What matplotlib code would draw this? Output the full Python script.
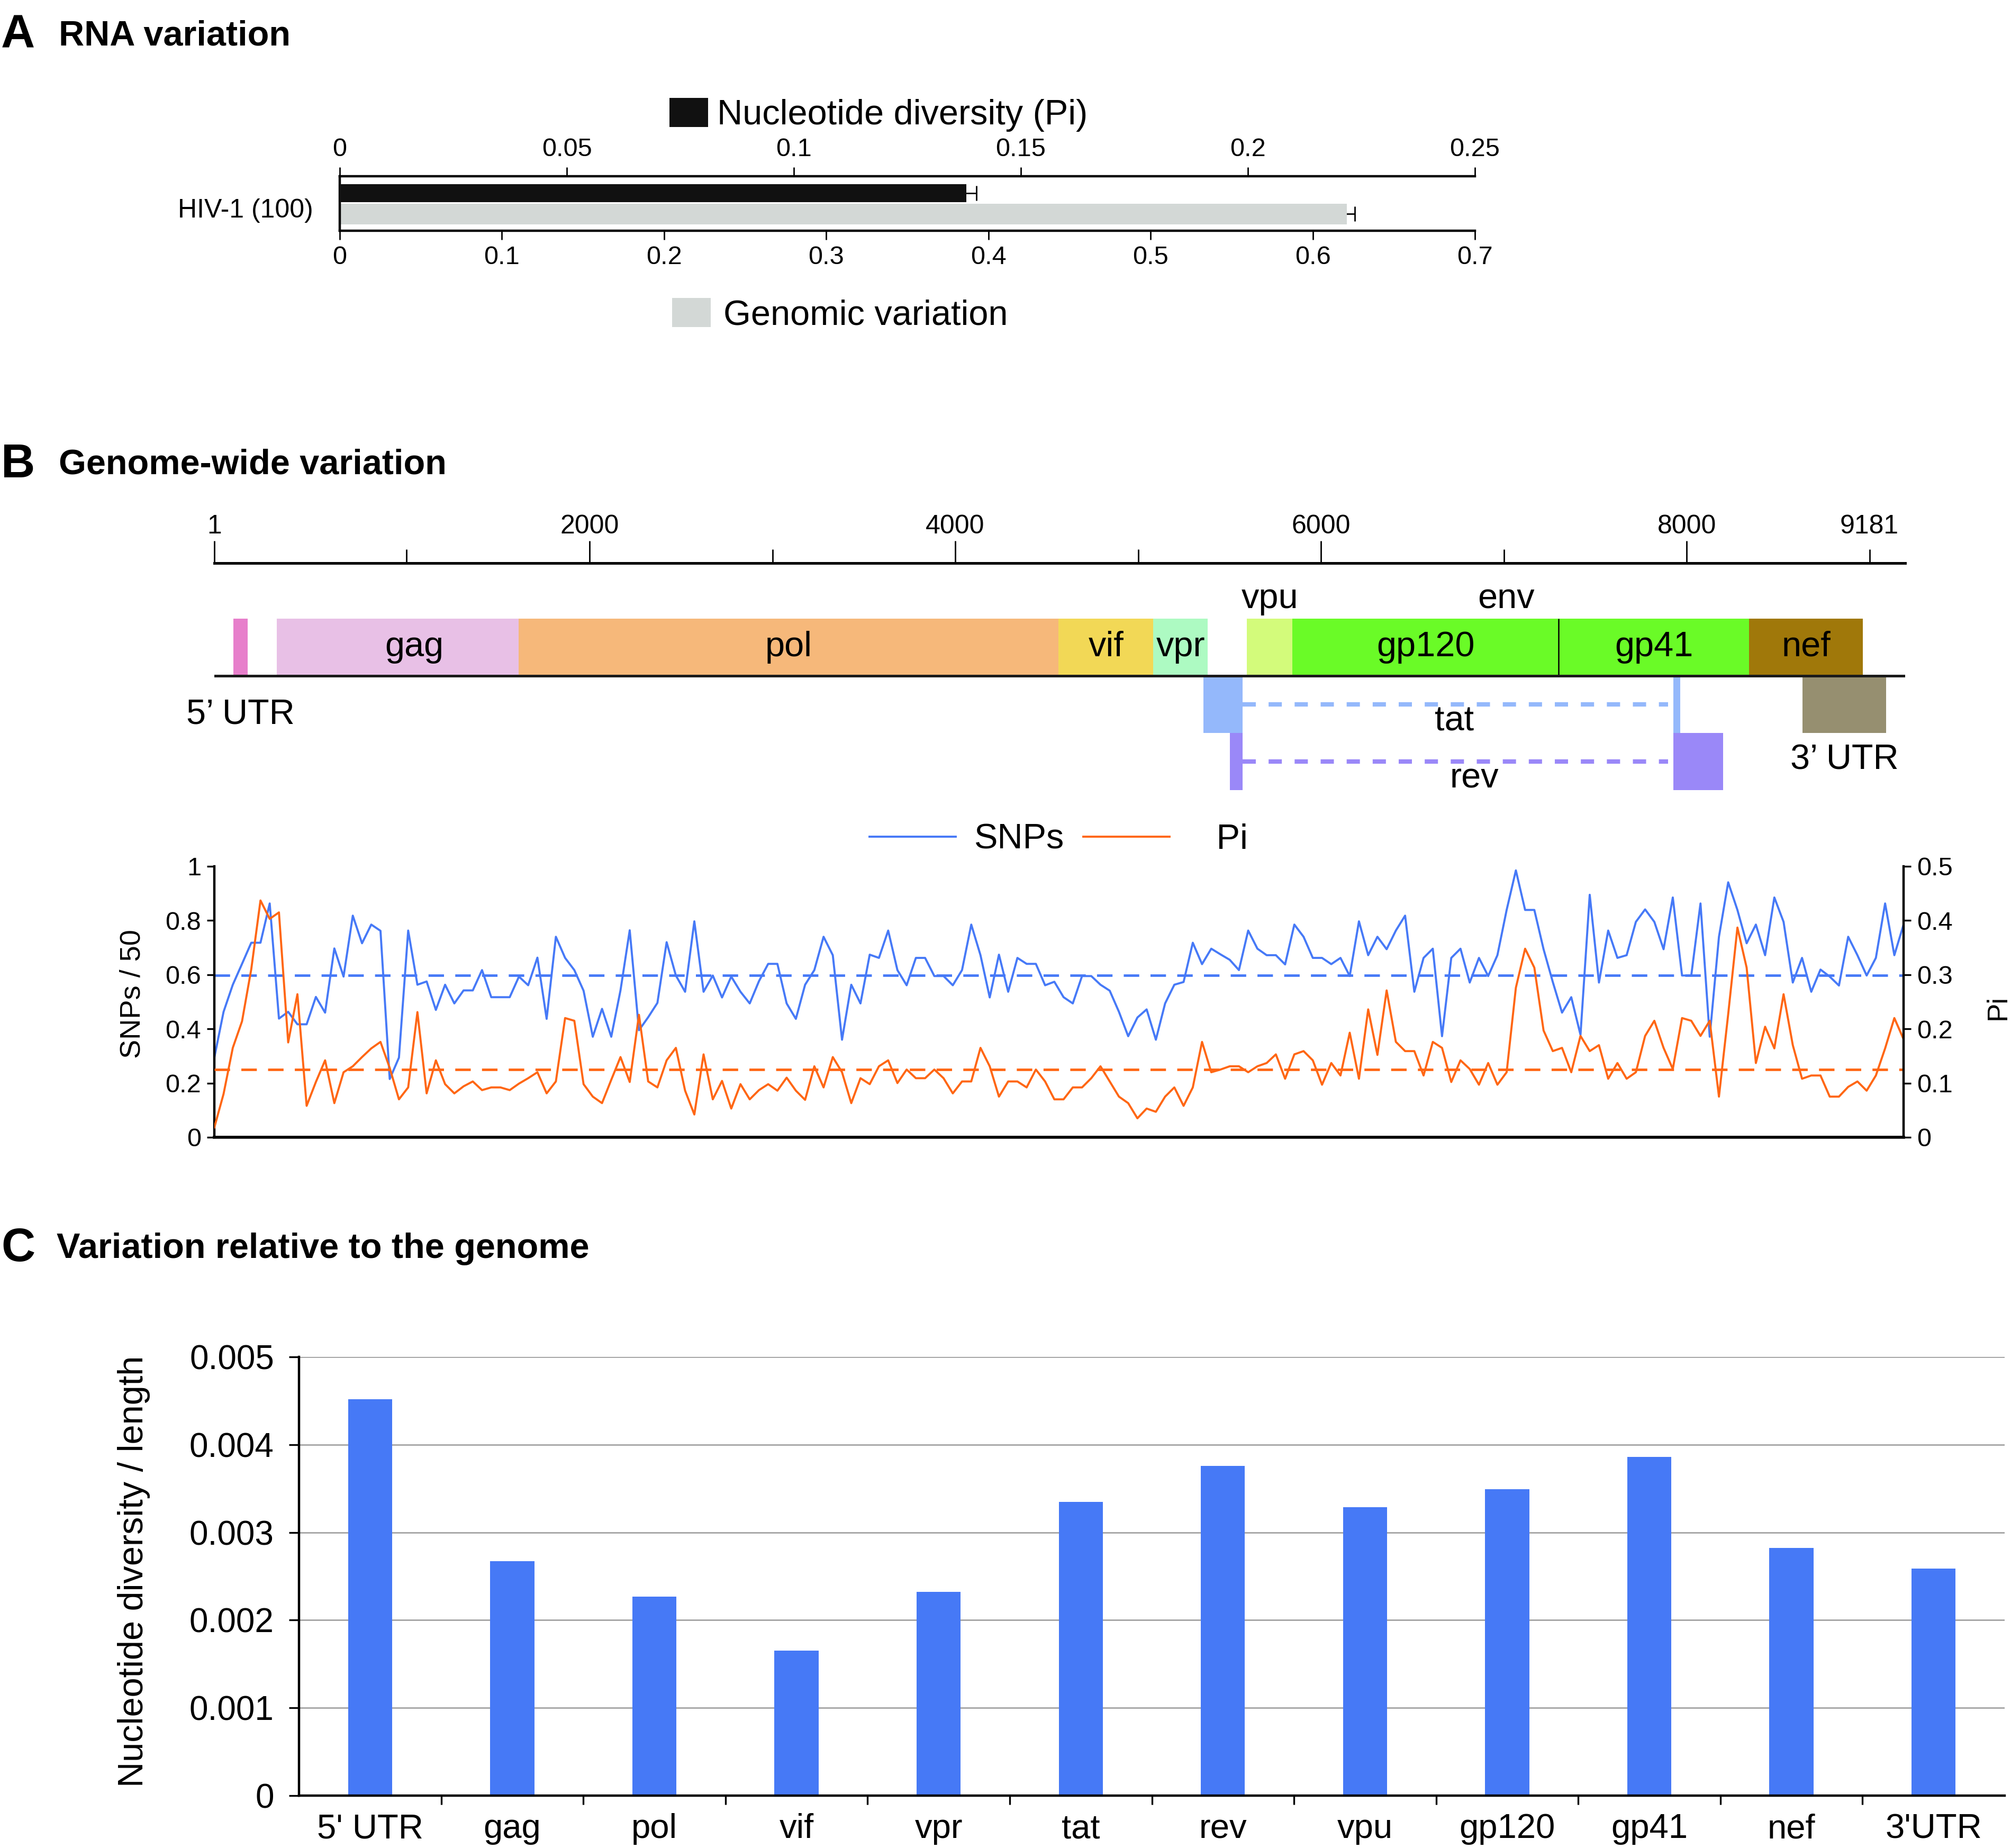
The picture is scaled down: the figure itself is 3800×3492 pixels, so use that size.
import numpy as np
import matplotlib.pyplot as plt
from matplotlib.lines import Line2D

plt.rcParams['font.family'] = ['Liberation Sans', 'DejaVu Sans']
plt.rcParams['axes.linewidth'] = 1.6

BLUE = '#4679F7'
ORANGE = '#FF6613'
W, H = 3800, 3492   # figure size in px, used only for layout

# ---------------- A: RNA variation
sample = 'HIV-1 (100)'
pi_value, pi_err = 0.138, 0.0022
genomic_value, genomic_err = 0.621, 0.005
pi_ticks = [0, 0.05, 0.1, 0.15, 0.2, 0.25]
pi_ticklabels = ['0', '0.05', '0.1', '0.15', '0.2', '0.25']
gv_ticks = [0, 0.1, 0.2, 0.3, 0.4, 0.5, 0.6, 0.7]
gv_ticklabels = ['0', '0.1', '0.2', '0.3', '0.4', '0.5', '0.6', '0.7']

# ---------------- B: genome map
genome_range = (-52, 9195)
genome_major = [-52, 2000, 4000, 6000, 8000]
genome_major_labels = ['1', '2000', '4000', '6000', '8000']
genome_minor = [1000, 3000, 5000, 7000, 9000]
genome_minor_labels = ['', '', '', '', '9181']
genes = ['', 'gag', 'pol', 'vif', 'vpr', '', 'gp120', 'gp41', 'nef']
gene_start = [52, 290, 1612, 4565, 5083, 5595, 5844, 7300, 8342]
gene_end = [130, 1612, 4565, 5083, 5381, 5844, 7300, 8342, 8964]
gene_colors = ['#E77FCB', '#E8C0E6', '#F6B87A', '#F2D856', '#ADFAC2',
               '#D3FB7B', '#6AFB27', '#6AFB27', '#A0780A']
tat_exons = [(5358, 5572), (7928, 7965)]
rev_exons = [(5503, 5572), (7928, 8200)]
utr3 = (8634, 9091)

# sliding window (50 nt) along the genome
snps = [0.294, 0.463, 0.563, 0.640, 0.718, 0.718, 0.863, 0.438, 0.463, 0.417,
        0.417, 0.518, 0.460, 0.697, 0.593, 0.818, 0.716, 0.785, 0.762, 0.215,
        0.294, 0.763, 0.563, 0.575, 0.470, 0.563, 0.494, 0.542, 0.542, 0.617,
        0.517, 0.517, 0.517, 0.593, 0.561, 0.663, 0.437, 0.740, 0.662, 0.617,
        0.541, 0.371, 0.474, 0.371, 0.542, 0.764, 0.395, 0.443, 0.496, 0.720,
        0.597, 0.537, 0.797, 0.537, 0.597, 0.516, 0.593, 0.537, 0.494, 0.576,
        0.640, 0.640, 0.494, 0.437, 0.563, 0.617, 0.740, 0.672, 0.360, 0.563,
        0.494, 0.674, 0.662, 0.763, 0.617, 0.561, 0.662, 0.662, 0.595, 0.595,
        0.561, 0.617, 0.785, 0.672, 0.516, 0.674, 0.537, 0.662, 0.640, 0.640,
        0.561, 0.574, 0.517, 0.494, 0.595, 0.595, 0.563, 0.541, 0.463, 0.373,
        0.442, 0.472, 0.360, 0.494, 0.563, 0.573, 0.718, 0.639, 0.696, 0.675,
        0.655, 0.617, 0.763, 0.696, 0.672, 0.672, 0.638, 0.785, 0.740, 0.662,
        0.662, 0.639, 0.662, 0.595, 0.797, 0.672, 0.740, 0.694, 0.763, 0.818,
        0.537, 0.662, 0.696, 0.373, 0.662, 0.696, 0.571, 0.662, 0.595, 0.672,
        0.839, 0.985, 0.839, 0.839, 0.694, 0.573, 0.460, 0.517, 0.378, 0.895,
        0.571, 0.763, 0.662, 0.672, 0.795, 0.841, 0.795, 0.694, 0.885, 0.597,
        0.597, 0.863, 0.371, 0.740, 0.941, 0.839, 0.716, 0.785, 0.672, 0.885,
        0.795, 0.571, 0.662, 0.537, 0.619, 0.593, 0.560, 0.740, 0.672, 0.597,
        0.662, 0.863, 0.672, 0.785]
pi = [0.018, 0.080, 0.165, 0.214, 0.310, 0.437, 0.403, 0.415, 0.175, 0.264,
      0.058, 0.102, 0.142, 0.063, 0.120, 0.131, 0.148, 0.164, 0.176, 0.128,
      0.070, 0.092, 0.231, 0.081, 0.142, 0.098, 0.081, 0.094, 0.103, 0.087,
      0.092, 0.092, 0.087, 0.099, 0.109, 0.120, 0.081, 0.103, 0.220, 0.215,
      0.098, 0.075, 0.063, 0.106, 0.148, 0.102, 0.226, 0.103, 0.092, 0.142,
      0.165, 0.086, 0.042, 0.153, 0.070, 0.104, 0.053, 0.098, 0.070, 0.087,
      0.098, 0.086, 0.110, 0.086, 0.069, 0.131, 0.092, 0.148, 0.120, 0.063,
      0.109, 0.098, 0.131, 0.142, 0.100, 0.125, 0.109, 0.109, 0.125, 0.109,
      0.081, 0.103, 0.103, 0.165, 0.131, 0.075, 0.103, 0.103, 0.092, 0.125,
      0.103, 0.070, 0.070, 0.092, 0.092, 0.109, 0.131, 0.103, 0.075, 0.063,
      0.035, 0.053, 0.047, 0.075, 0.092, 0.058, 0.092, 0.176, 0.120, 0.125,
      0.131, 0.131, 0.120, 0.131, 0.137, 0.153, 0.108, 0.153, 0.159, 0.142,
      0.097, 0.137, 0.114, 0.193, 0.108, 0.236, 0.152, 0.271, 0.176, 0.159,
      0.159, 0.114, 0.176, 0.165, 0.102, 0.142, 0.126, 0.097, 0.137, 0.097,
      0.120, 0.276, 0.348, 0.313, 0.197, 0.159, 0.165, 0.120, 0.187, 0.159,
      0.170, 0.108, 0.137, 0.108, 0.120, 0.187, 0.215, 0.165, 0.126, 0.220,
      0.215, 0.187, 0.215, 0.075, 0.227, 0.387, 0.313, 0.137, 0.204, 0.164,
      0.264, 0.170, 0.108, 0.114, 0.114, 0.075, 0.075, 0.093, 0.103, 0.086,
      0.114, 0.164, 0.220, 0.181]
snps_mean = 0.597
pi_mean = 0.125

# ---------------- C: variation relative to the genome
regions = ["5' UTR", 'gag', 'pol', 'vif', 'vpr', 'tat', 'rev', 'vpu',
           'gp120', 'gp41', 'nef', "3'UTR"]
div_per_len = [0.00452, 0.00267, 0.00227, 0.00165, 0.00232, 0.00335,
               0.00376, 0.00329, 0.00349, 0.00386, 0.00282, 0.00259]


def rect(x0, y0, x1, y1):
    # px box (top-left origin) -> figure fraction
    return [x0 / W, 1 - y1 / H, (x1 - x0) / W, (y1 - y0) / H]


fig = plt.figure(figsize=(19, 17.46), dpi=200)

# panel titles
for letter, title, ypx, tx in [('A', 'RNA variation', 68, 111),
                               ('B', 'Genome-wide variation', 879, 111),
                               ('C', 'Variation relative to the genome', 2360, 107)]:
    fig.text(2 / W, 1 - ypx / H, letter, fontsize=32, fontweight='bold', va='center')
    fig.text(tx / W, 1 - ypx / H, title, fontsize=24, fontweight='bold', va='center')

# ================= A =================
ax_a = fig.add_axes(rect(642, 333, 2787, 436))
ax_a.set_xlim(0, 0.7)
ax_a.set_ylim(0, 1)
ax_a.errorbar(genomic_value, 0.306, xerr=genomic_err, color='black', lw=1,
              capsize=5, capthick=1, zorder=0.5)
gv_bar = ax_a.barh(0.306, genomic_value, height=0.38, color='#D3D8D6', zorder=1)
ax_a.set_xticks(gv_ticks, gv_ticklabels, fontsize=17.5)
ax_a.set_yticks([0.42], [sample], fontsize=18)
ax_a.tick_params(axis='y', length=0, pad=18)
ax_a.tick_params(axis='x', direction='out', length=6, width=1, pad=4)
for s in ['top', 'right']:
    ax_a.spines[s].set_visible(False)

ax_t = ax_a.twiny()
ax_t.set_xlim(0, 0.25)
ax_t.errorbar(pi_value, 0.689, xerr=pi_err, color='black', lw=1,
              capsize=5, capthick=1, zorder=0.5)
pi_bar = ax_t.barh(0.689, pi_value, height=0.33, color='#111111', zorder=1)
ax_t.set_xticks(pi_ticks, pi_ticklabels, fontsize=17.5)
ax_t.tick_params(axis='x', direction='out', length=6, width=1, pad=4)
for s in ['left', 'right', 'bottom']:
    ax_t.spines[s].set_visible(False)

ax_t.legend([pi_bar], ['Nucleotide diversity (Pi)'], loc='center left',
            bbox_to_anchor=(1265 / W, 1 - 217 / H), bbox_transform=fig.transFigure,
            frameon=False, fontsize=24, handlelength=1.1, handleheight=0.9,
            handletextpad=0.25, borderpad=0, borderaxespad=0)
ax_a.legend([gv_bar], ['Genomic variation'], loc='center left',
            bbox_to_anchor=(1270 / W, 1 - 595 / H), bbox_transform=fig.transFigure,
            frameon=False, fontsize=24, handlelength=1.1, handleheight=0.9,
            handletextpad=0.35, borderpad=0, borderaxespad=0)

# ================= B: genome map =================
ax_g = fig.add_axes(rect(405, 1064, 3600, 1500))
ax_g.set_xlim(*genome_range)
ax_g.set_ylim(-2.065, 1.972)
for s in ['left', 'right', 'bottom']:
    ax_g.spines[s].set_visible(False)
ax_g.spines['top'].set_linewidth(1.8)
ax_g.xaxis.tick_top()
ax_g.set_xticks(genome_major, genome_major_labels, fontsize=18)
ax_g.set_xticks(genome_minor, genome_minor_labels, minor=True, fontsize=18)
ax_g.tick_params(axis='x', which='major', direction='out', length=15, width=1, pad=1.5)
ax_g.tick_params(axis='x', which='minor', direction='out', length=9.5, width=1, pad=7)
ax_g.set_yticks([])

widths = np.array(gene_end) - np.array(gene_start)
ax_g.barh(0.5, widths, left=gene_start, height=1, color=gene_colors, lw=0)
ax_g.vlines(gene_start[7], 0, 1, color='black', lw=0.9)
ax_g.axhline(0, color='#1a1a1a', lw=1.8)
for name, a, b in zip(genes, gene_start, gene_end):
    if name:
        shift = 90 if name == 'gag' else 0
        ax_g.text((a + b) / 2 + shift, 0.5, name, fontsize=24, ha='center', va='center')
ax_g.text((gene_start[5] + gene_end[5]) / 2, 1.34, 'vpu', fontsize=24, ha='center', va='center')
ax_g.text((gene_start[6] + gene_end[7]) / 2 - 80, 1.34, 'env', fontsize=24, ha='center', va='center')

# tat / rev / UTRs below the line
tat_c, rev_c = '#94B8FB', '#9A88F8'
for a, b in tat_exons:
    ax_g.barh(-0.515, b - a, left=a, height=0.97, color=tat_c, lw=0)
for a, b in rev_exons:
    ax_g.barh(-1.5, b - a, left=a, height=1.0, color=rev_c, lw=0)
ax_g.plot([tat_exons[0][1], tat_exons[1][0] - 30], [-0.5, -0.5], color=tat_c,
          lw=3, dashes=(3, 2.9))
ax_g.plot([rev_exons[0][1], rev_exons[1][0] - 30], [-1.5, -1.5], color=rev_c,
          lw=3, dashes=(3, 2.9))
ax_g.barh(-0.515, utr3[1] - utr3[0], left=utr3[0], height=0.97, color='#968F70', lw=0)
mid = (tat_exons[0][1] + tat_exons[1][0]) / 2
ax_g.text(mid - 20, -0.8, 'tat', fontsize=24, ha='center', va='center')
ax_g.text(mid + 90, -1.8, 'rev', fontsize=24, ha='center', va='center')
ax_g.text((gene_start[0] + gene_end[0]) / 2, -0.68, '5\u2019 UTR', fontsize=24,
          ha='center', va='center')
ax_g.text((utr3[0] + utr3[1]) / 2, -1.48, '3\u2019 UTR', fontsize=24,
          ha='center', va='center')

# ================= B: SNPs / Pi along genome =================
x = np.arange(len(snps))
ax_l = fig.add_axes(rect(405, 1637, 3597, 2149))
ax_l.plot(x, snps, color=BLUE, lw=1.4)
ax_l.axhline(snps_mean, color=BLUE, lw=1.7, dashes=(6.2, 4.5))
ax_l.set_xlim(0, len(snps) - 1)
ax_l.set_ylim(0, 1)
ax_l.set_xticks([])
ax_l.set_yticks([0, 0.2, 0.4, 0.6, 0.8, 1], ['0', '0.2', '0.4', '0.6', '0.8', '1'],
                fontsize=17.5)
ax_l.tick_params(axis='y', direction='out', length=5, width=1.2, pad=4)
ax_l.spines['top'].set_visible(False)
ax_l.spines['right'].set_visible(False)
ax_l.spines['bottom'].set_linewidth(2)
ax_l.set_ylabel('SNPs / 50', fontsize=19.5)
ax_l.yaxis.set_label_coords(-0.0407, 0.53)

ax_r = ax_l.twinx()
ax_r.plot(x, pi, color=ORANGE, lw=1.4)
ax_r.axhline(pi_mean, color=ORANGE, lw=1.7, dashes=(6.2, 4.5))
ax_r.set_ylim(0, 0.5)
ax_r.set_yticks([0, 0.1, 0.2, 0.3, 0.4, 0.5], ['0', '0.1', '0.2', '0.3', '0.4', '0.5'],
                fontsize=17.5)
ax_r.tick_params(axis='y', direction='out', length=5, width=1.2, pad=4)
for s in ['top', 'left', 'bottom']:
    ax_r.spines[s].set_visible(False)
ax_r.set_ylabel('Pi', fontsize=19)
ax_r.yaxis.set_label_coords(1.048, 0.48)

handles = [Line2D([], [], color=BLUE, lw=1.4), Line2D([], [], color=ORANGE, lw=1.4)]
fig.legend(handles, ['SNPs', '   Pi'], loc='center left', ncol=2,
           bbox_to_anchor=(1643 / W, 1 - 1587 / H), frameon=False, fontsize=24,
           handlelength=2.45, handletextpad=0.5, columnspacing=0.55,
           borderpad=0, borderaxespad=0)

# ================= C =================
ax_c = fig.add_axes(rect(565, 2564, 3788, 3393))
xc = np.arange(len(regions))
ax_c.bar(xc, div_per_len, width=0.31, color='#4679F6', zorder=2)
ax_c.set_xlim(-0.5, len(regions) - 0.5)
ax_c.set_ylim(0, 0.005)
ax_c.set_yticks([0, 0.001, 0.002, 0.003, 0.004, 0.005],
                ['0', '0.001', '0.002', '0.003', '0.004', '0.005'], fontsize=23)
ax_c.set_xticks(xc, regions, fontsize=23.5)
ax_c.set_xticks(xc[:-1] + 0.5, minor=True)
ax_c.tick_params(axis='x', which='major', length=0, pad=12)
ax_c.tick_params(axis='x', which='minor', length=6, width=1.2, direction='out')
ax_c.tick_params(axis='y', length=7, width=1.2, direction='out', pad=10)
ax_c.yaxis.grid(True, color='#9A9A9A', lw=0.9)
ax_c.set_axisbelow(True)
for s in ['top', 'right']:
    ax_c.spines[s].set_visible(False)
ax_c.spines['left'].set_linewidth(1.6)
ax_c.spines['bottom'].set_linewidth(1.6)
ax_c.set_ylabel('Nucleotide diversity / length', fontsize=24)
ax_c.yaxis.set_label_coords(-0.0872, 0.511)

fig.savefig('out.png', dpi=200)
